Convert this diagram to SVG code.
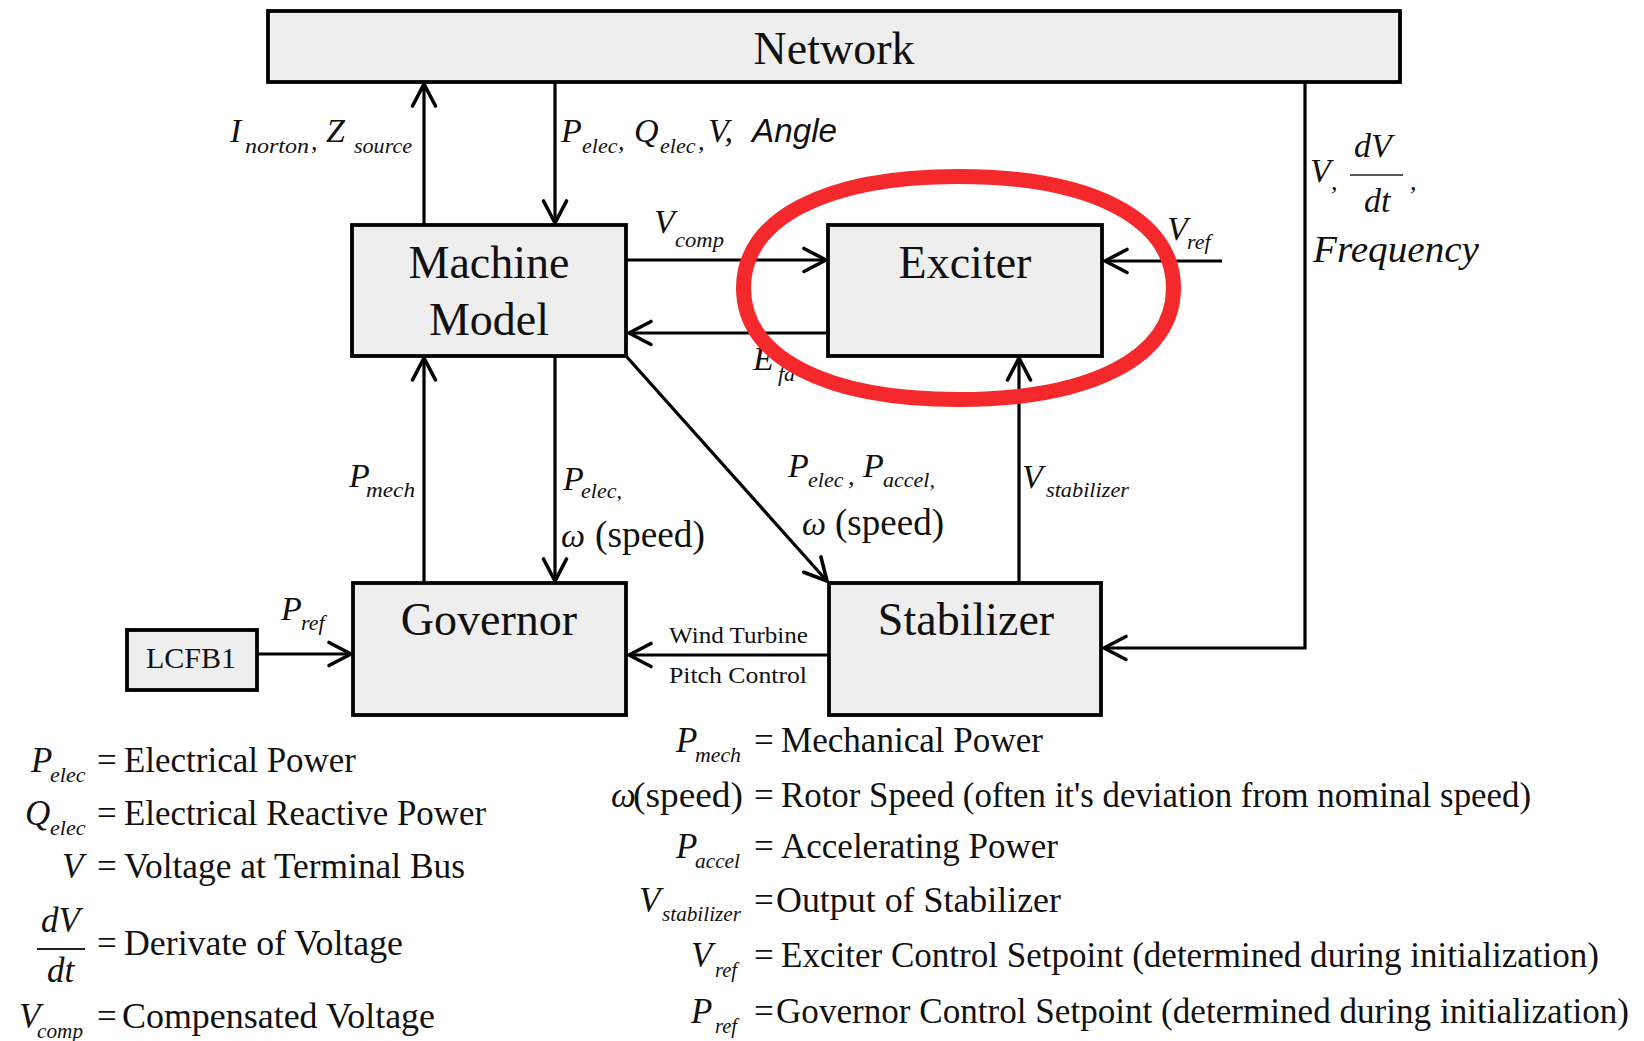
<svg xmlns="http://www.w3.org/2000/svg" width="1644" height="1041" viewBox="0 0 1644 1041">
  <style>
    .box { fill: #eeeeee; stroke: #000; stroke-width: 3.8; }
    .conn { fill: none; stroke: #000; stroke-width: 3.2; }
    .node { font-family: "Liberation Serif", "Times New Roman", serif; font-size: 46px; fill: #111; text-anchor: middle; }
    .it { font-family: "Liberation Serif", "Times New Roman", serif; font-style: italic; font-size: 34px; fill: #111; }
    .sub { font-family: "Liberation Serif", "Times New Roman", serif; font-style: italic; font-size: 22px; fill: #111; }
    .rm { font-family: "Liberation Serif", "Times New Roman", serif; font-size: 35px; fill: #111; }
    .small { font-family: "Liberation Serif", "Times New Roman", serif; font-size: 23px; fill: #111; }
    .sans { font-family: "Liberation Sans", Arial, sans-serif; font-style: italic; font-size: 33px; fill: #111; }
  </style>
  <defs>
    <marker id="arrow" markerUnits="userSpaceOnUse" markerWidth="40" markerHeight="40" viewBox="-30 -20 40 40" refX="0" refY="0" orient="auto">
      <path d="M -22 -11.5 L 0 0 L -22 11.5" fill="none" stroke="#000" stroke-width="3.6" stroke-linecap="round" stroke-linejoin="round"/>
    </marker>
  </defs>

  <rect width="1644" height="1041" fill="#ffffff"/>

  <!-- blocks -->
  <g id="network">
    <rect class="box" x="268" y="11" width="1132" height="71"/>
    <text class="node" x="834" y="64">Network</text>
  </g>
  <g id="machine-model">
    <rect class="box" x="352" y="225" width="274" height="131"/>
    <text class="node" x="489" y="278">Machine</text>
    <text class="node" x="489" y="335">Model</text>
  </g>
  <g id="exciter">
    <rect class="box" x="828" y="225" width="274" height="131"/>
    <text class="node" x="965" y="278">Exciter</text>
  </g>
  <g id="governor">
    <rect class="box" x="353" y="583" width="273" height="132"/>
    <text class="node" x="489" y="635">Governor</text>
  </g>
  <g id="stabilizer">
    <rect class="box" x="829" y="583" width="272" height="132"/>
    <text class="node" x="966" y="635">Stabilizer</text>
  </g>
  <g id="lcfb1">
    <rect class="box" x="127" y="630" width="130" height="60"/>
    <text class="node" x="191" y="668" style="font-size:30px">LCFB1</text>
  </g>

  <!-- signal connectors -->
  <g id="connectors">
    <line class="conn" x1="424" y1="225" x2="424" y2="84" marker-end="url(#arrow)"/>
    <line class="conn" x1="555" y1="83" x2="555" y2="223" marker-end="url(#arrow)"/>
    <line class="conn" x1="626" y1="260" x2="826" y2="260" marker-end="url(#arrow)"/>
    <line class="conn" x1="828" y1="333" x2="629" y2="333" marker-end="url(#arrow)"/>
    <line class="conn" x1="1222" y1="261" x2="1105" y2="261" marker-end="url(#arrow)"/>
    <line class="conn" x1="424" y1="583" x2="424" y2="358" marker-end="url(#arrow)"/>
    <line class="conn" x1="555" y1="356" x2="555" y2="581" marker-end="url(#arrow)"/>
    <line class="conn" x1="626" y1="356" x2="827" y2="581" marker-end="url(#arrow)"/>
    <line class="conn" x1="1019" y1="583" x2="1019" y2="358" marker-end="url(#arrow)"/>
    <line class="conn" x1="829" y1="655" x2="629" y2="655" marker-end="url(#arrow)"/>
    <line class="conn" x1="257" y1="654" x2="351" y2="654" marker-end="url(#arrow)"/>
    <polyline class="conn" points="1305,82 1305,648 1104,648" marker-end="url(#arrow)"/>
  </g>

  <!-- connector labels -->
  <g id="labels">
    <text class="it" x="230" y="142">I</text>
    <text class="sub" x="245" y="153" textLength="64" lengthAdjust="spacingAndGlyphs">norton</text>
    <text class="it" x="311" y="150" style="font-size:26px">,</text>
    <text class="it" x="326" y="142">Z</text>
    <text class="sub" x="354" y="153" textLength="58" lengthAdjust="spacingAndGlyphs">source</text>

    <text class="it" x="561" y="142">P</text>
    <text class="sub" x="582" y="153">elec</text>
    <text class="it" x="618" y="150" style="font-size:26px">,</text>
    <text class="it" x="634" y="142">Q</text>
    <text class="sub" x="660" y="153">elec</text>
    <text class="it" x="698" y="150" style="font-size:26px">,</text>
    <text class="it" x="708" y="142">V,</text>
    <text class="sans" x="752" y="142" textLength="85" lengthAdjust="spacingAndGlyphs">Angle</text>

    <text class="it" x="654" y="233">V</text>
    <text class="sub" x="675" y="247" textLength="49" lengthAdjust="spacingAndGlyphs">comp</text>

    <text class="it" x="753" y="370">E</text>
    <text class="sub" x="778" y="381">fd</text>

    <text class="it" x="1167" y="240">V</text>
    <text class="sub" x="1187" y="249">ref</text>

    <text class="it" x="1310" y="182">V</text>
    <text class="it" x="1331" y="190" style="font-size:26px">,</text>
    <text class="it" x="1354" y="157">dV</text>
    <line x1="1350" y1="175" x2="1403" y2="175" stroke="#222" stroke-width="1.6"/>
    <text class="it" x="1364" y="212">dt</text>
    <text class="it" x="1410" y="190" style="font-size:26px">,</text>
    <text class="it" x="1313" y="262" style="font-size:38px" textLength="166" lengthAdjust="spacingAndGlyphs">Frequency</text>

    <text class="it" x="349" y="487">P</text>
    <text class="sub" x="366" y="497" textLength="49" lengthAdjust="spacingAndGlyphs">mech</text>

    <text class="it" x="563" y="490">P</text>
    <text class="sub" x="581" y="498">elec,</text>
    <text class="it" x="561" y="547">ω</text>
    <text class="rm" x="595" y="547" style="font-size:37px" textLength="110" lengthAdjust="spacingAndGlyphs">(speed)</text>

    <text class="it" x="788" y="477">P</text>
    <text class="sub" x="808" y="487">elec</text>
    <text class="it" x="848" y="485" style="font-size:26px">,</text>
    <text class="it" x="863" y="477">P</text>
    <text class="sub" x="883" y="487">accel,</text>
    <text class="it" x="802" y="535">ω</text>
    <text class="rm" x="835" y="535" style="font-size:37px" textLength="109" lengthAdjust="spacingAndGlyphs">(speed)</text>

    <text class="it" x="1022" y="488">V</text>
    <text class="sub" x="1046" y="497" textLength="83" lengthAdjust="spacingAndGlyphs">stabilizer</text>

    <text class="it" x="281" y="620">P</text>
    <text class="sub" x="301" y="630">ref</text>

    <text class="small" x="669" y="643" textLength="139" lengthAdjust="spacingAndGlyphs">Wind Turbine</text>
    <text class="small" x="669" y="683" textLength="138" lengthAdjust="spacingAndGlyphs">Pitch Control</text>
  </g>

  <!-- hand-drawn style ring around the exciter -->
  <path d="M 743.5 288 C 743.5 218.9, 825.2 176.5, 958.5 176.5 C 1091.8 176.5, 1173.5 218.9, 1173.5 288 C 1173.5 357.1, 1091.8 399.5, 958.5 399.5 C 825.2 399.5, 743.5 357.1, 743.5 288 Z" fill="none" stroke="#f5282b" stroke-width="15"/>

  <!-- symbol legend, left column -->
  <g id="legend-left">
    <text class="it" x="31" y="772" style="font-size:35px">P</text>
    <text class="sub" x="50" y="782">elec</text>
    <text class="rm" x="97" y="772">=</text>
    <text class="rm" x="124" y="772" textLength="232" lengthAdjust="spacingAndGlyphs">Electrical Power</text>

    <text class="it" x="25" y="825" style="font-size:35px">Q</text>
    <text class="sub" x="50" y="835">elec</text>
    <text class="rm" x="97" y="825">=</text>
    <text class="rm" x="124" y="825" textLength="362" lengthAdjust="spacingAndGlyphs">Electrical Reactive Power</text>

    <text class="it" x="62" y="878" style="font-size:35px">V</text>
    <text class="rm" x="97" y="878">=</text>
    <text class="rm" x="124" y="878" textLength="341" lengthAdjust="spacingAndGlyphs">Voltage at Terminal Bus</text>

    <text class="it" x="41" y="932" style="font-size:35px">dV</text>
    <line x1="37" y1="949" x2="85" y2="949" stroke="#222" stroke-width="1.8"/>
    <text class="it" x="47" y="982" style="font-size:35px">dt</text>
    <text class="rm" x="97" y="955">=</text>
    <text class="rm" x="124" y="955" textLength="279" lengthAdjust="spacingAndGlyphs">Derivate of Voltage</text>

    <text class="it" x="19" y="1028" style="font-size:35px">V</text>
    <text class="sub" x="37" y="1038" textLength="46" lengthAdjust="spacingAndGlyphs">comp</text>
    <text class="rm" x="97" y="1028">=</text>
    <text class="rm" x="122" y="1028" textLength="313" lengthAdjust="spacingAndGlyphs">Compensated Voltage</text>
  </g>

  <!-- symbol legend, right column -->
  <g id="legend-right">
    <text class="it" x="676" y="752" style="font-size:35px">P</text>
    <text class="sub" x="695" y="762" textLength="46" lengthAdjust="spacingAndGlyphs">mech</text>
    <text class="rm" x="754" y="752">=</text>
    <text class="rm" x="781" y="752" textLength="262" lengthAdjust="spacingAndGlyphs">Mechanical Power</text>

    <text class="it" x="611" y="807" style="font-size:35px">ω</text>
    <text class="rm" x="633" y="807" textLength="110" lengthAdjust="spacingAndGlyphs">(speed)</text>
    <text class="rm" x="754" y="807">=</text>
    <text class="rm" x="781" y="807" textLength="750" lengthAdjust="spacingAndGlyphs">Rotor Speed (often it's deviation from nominal speed)</text>

    <text class="it" x="676" y="858" style="font-size:35px">P</text>
    <text class="sub" x="695" y="868" textLength="45" lengthAdjust="spacingAndGlyphs">accel</text>
    <text class="rm" x="754" y="858">=</text>
    <text class="rm" x="781" y="858" textLength="277" lengthAdjust="spacingAndGlyphs">Accelerating Power</text>

    <text class="it" x="639" y="912" style="font-size:35px">V</text>
    <text class="sub" x="662" y="921" textLength="79" lengthAdjust="spacingAndGlyphs">stabilizer</text>
    <text class="rm" x="754" y="912">=</text>
    <text class="rm" x="776" y="912" textLength="285" lengthAdjust="spacingAndGlyphs">Output of Stabilizer</text>

    <text class="it" x="691" y="967" style="font-size:35px">V</text>
    <text class="sub" x="715" y="977" textLength="22" lengthAdjust="spacingAndGlyphs">ref</text>
    <text class="rm" x="754" y="967">=</text>
    <text class="rm" x="781" y="967" textLength="818" lengthAdjust="spacingAndGlyphs">Exciter Control Setpoint (determined during initialization)</text>

    <text class="it" x="691" y="1023" style="font-size:35px">P</text>
    <text class="sub" x="715" y="1033" textLength="22" lengthAdjust="spacingAndGlyphs">ref</text>
    <text class="rm" x="754" y="1023">=</text>
    <text class="rm" x="776" y="1023" textLength="853" lengthAdjust="spacingAndGlyphs">Governor Control Setpoint (determined during initialization)</text>
  </g>
</svg>
